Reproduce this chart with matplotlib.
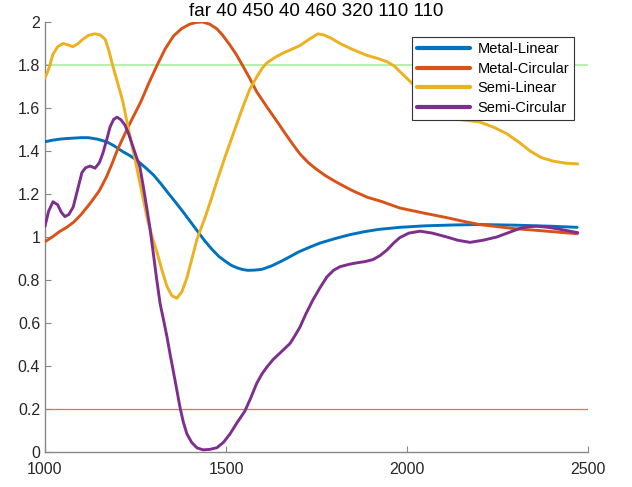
import matplotlib
matplotlib.use("Agg")
from matplotlib import pyplot as pp

# 读图得到的数据
ml_x = [1000, 1020, 1040, 1060, 1080, 1100, 1120, 1145, 1170, 1190, 1215, 1235, 1255, 1278, 1300, 1320,
        1340, 1360, 1380, 1400, 1420, 1440, 1460, 1480, 1500, 1515, 1530, 1545, 1560, 1580, 1600, 1625,
        1650, 1675, 1700, 1730, 1760, 1800, 1840, 1880, 1920, 1980, 2050, 2130, 2200, 2300, 2400, 2470]
ml_y = [1.443, 1.45, 1.455, 1.458, 1.46, 1.462, 1.462, 1.455, 1.443, 1.425, 1.397, 1.378, 1.355, 1.322,
        1.288, 1.248, 1.205, 1.163, 1.12, 1.075, 1.03, 0.985, 0.945, 0.91, 0.885, 0.868, 0.857, 0.849,
        0.845, 0.846, 0.85, 0.865, 0.885, 0.907, 0.93, 0.952, 0.972, 0.992, 1.01, 1.024, 1.035, 1.045,
        1.052, 1.056, 1.058, 1.055, 1.05, 1.045]

mc_x = [1000, 1020, 1040, 1060, 1080, 1100, 1125, 1150, 1170, 1185, 1200, 1218, 1235, 1250, 1265, 1288,
        1310, 1332, 1355, 1378, 1400, 1418, 1435, 1455, 1475, 1490, 1510, 1528, 1545, 1565, 1585, 1615,
        1640, 1660, 1685, 1705, 1728, 1750, 1775, 1800, 1825, 1850, 1890, 1930, 1980, 2050, 2110, 2150,
        2200, 2250, 2290, 2380, 2470]
mc_y = [0.978, 1.0, 1.025, 1.045, 1.07, 1.105, 1.157, 1.215, 1.28, 1.34, 1.405, 1.47, 1.53, 1.58, 1.63,
        1.72, 1.80, 1.875, 1.935, 1.97, 1.99, 1.998, 2.0, 1.99, 1.968, 1.94, 1.895, 1.85, 1.80, 1.74,
        1.675, 1.60, 1.54, 1.49, 1.43, 1.385, 1.345, 1.315, 1.285, 1.26, 1.237, 1.215, 1.185, 1.165,
        1.135, 1.11, 1.09, 1.075, 1.058, 1.048, 1.04, 1.028, 1.015]

sl_x = [1000, 1010, 1022, 1035, 1050, 1065, 1077, 1090, 1105, 1120, 1138, 1152, 1166, 1176, 1185, 1200,
        1215, 1232, 1250, 1266, 1282, 1296, 1310, 1324, 1337, 1350, 1364, 1378, 1392, 1406, 1420, 1442,
        1458, 1475, 1498, 1520, 1547, 1565, 1585, 1600, 1613, 1635, 1657, 1680, 1704, 1730, 1754, 1770,
        1790, 1815, 1850, 1889, 1920, 1945, 1965, 1980, 2017, 2055, 2091, 2120, 2150, 2201, 2240, 2276,
        2310, 2340, 2370, 2403, 2440, 2472]
sl_y = [1.74, 1.78, 1.85, 1.885, 1.90, 1.893, 1.885, 1.898, 1.92, 1.938, 1.945, 1.94, 1.92, 1.87, 1.81,
        1.72, 1.63, 1.49, 1.35, 1.22, 1.09, 1.0, 0.925, 0.84, 0.77, 0.728, 0.715, 0.745, 0.81, 0.9, 0.99,
        1.09, 1.17, 1.26, 1.375, 1.48, 1.607, 1.685, 1.745, 1.785, 1.81, 1.835, 1.855, 1.872, 1.89, 1.92,
        1.945, 1.94, 1.925, 1.90, 1.872, 1.845, 1.83, 1.815, 1.795, 1.77, 1.71, 1.62, 1.56, 1.55, 1.545,
        1.535, 1.51, 1.48, 1.44, 1.40, 1.37, 1.353, 1.343, 1.34]

sc_x = [1000, 1010, 1022, 1035, 1045, 1055, 1066, 1078, 1090, 1102, 1112, 1125, 1138, 1150, 1160, 1170,
        1180, 1190, 1199, 1210, 1221, 1232, 1243, 1252, 1262, 1272, 1282, 1290, 1298, 1308, 1318, 1328,
        1337, 1345, 1354, 1364, 1373, 1382, 1392, 1405, 1420, 1437, 1455, 1475, 1493, 1511, 1530, 1552,
        1568, 1585, 1600, 1613, 1630, 1649, 1677, 1690, 1704, 1720, 1740, 1760, 1779, 1797, 1815, 1840,
        1862, 1885, 1906, 1925, 1945, 1962, 1980, 2005, 2036, 2070, 2110, 2140, 2174, 2210, 2248, 2280,
        2312, 2335, 2359, 2390, 2422, 2472]
sc_y = [1.05, 1.12, 1.164, 1.15, 1.115, 1.095, 1.105, 1.14, 1.22, 1.30, 1.322, 1.33, 1.32, 1.345, 1.39,
        1.45, 1.513, 1.548, 1.557, 1.545, 1.52, 1.475, 1.42, 1.375, 1.327, 1.23, 1.126, 1.04, 0.94, 0.81,
        0.69, 0.61, 0.535, 0.46, 0.38, 0.29, 0.207, 0.14, 0.084, 0.045, 0.019, 0.01, 0.012, 0.02, 0.045,
        0.084, 0.135, 0.19, 0.25, 0.32, 0.365, 0.395, 0.43, 0.46, 0.505, 0.54, 0.58, 0.64, 0.707, 0.765,
        0.815, 0.845, 0.862, 0.873, 0.88, 0.886, 0.895, 0.913, 0.94, 0.97, 0.997, 1.018, 1.027, 1.018,
        1.0, 0.985, 0.975, 0.985, 1.0, 1.02, 1.04, 1.048, 1.05, 1.045, 1.036, 1.02]

names = ["Metal-Linear", "Metal-Circular", "Semi-Linear", "Semi-Circular"]
colors = ["#0072BD", "#D95319", "#EDB120", "#7E2F8E"]
x_ticks = [1000, 1500, 2000, 2500]
y_ticks = [0, 0.2, 0.4, 0.6, 0.8, 1, 1.2, 1.4, 1.6, 1.8, 2]
y_labels = ["0", "0.2", "0.4", "0.6", "0.8", "1", "1.2", "1.4", "1.6", "1.8", "2"]

pp.rcParams["font.family"] = ["Liberation Sans", "DejaVu Sans"]

fig = pp.figure(figsize=(6.32, 4.87), dpi=100)
ax = fig.add_axes([45 / 632, 1 - 452 / 487, 543 / 632, 430 / 487])

ax.axhline(1.8, color="#a8f0a0", lw=1.2, zorder=1)
ax.axhline(0.2, color="#ee6a6a", lw=0.9, zorder=1)

for xs, ys, nm, c in zip([ml_x, mc_x, sl_x, sc_x], [ml_y, mc_y, sl_y, sc_y], names, colors):
    ax.plot(xs, ys, color=c, lw=2.1, label=nm, zorder=3, solid_capstyle="round", solid_joinstyle="round")

ax.set_xlim(1000, 2500)
ax.set_ylim(0, 2)
ax.set_xticks(x_ticks)
ax.set_yticks(y_ticks)
ax.set_yticklabels(y_labels)
ax.tick_params(direction="in", length=4, width=0.8, colors="#888888", labelcolor="#262626", labelsize=11.5)
ax.tick_params(axis="x", pad=7)
for s in ["top", "right"]:
    ax.spines[s].set_visible(False)
for s in ["left", "bottom"]:
    ax.spines[s].set_color("#888888")
    ax.spines[s].set_linewidth(1.0)

ax.set_title("far 40 450 40 460 320 110 110", fontsize=13.5, color="#000000", pad=4)

leg = ax.legend(loc="upper right", bbox_to_anchor=(574 / 632, 1 - 37 / 487), bbox_transform=fig.transFigure,
                borderaxespad=0, fontsize=10.5, handlelength=3.6, handletextpad=0.5, labelspacing=0.38,
                borderpad=0.35, fancybox=False, framealpha=1, edgecolor="#333333")
leg.get_frame().set_linewidth(0.8)
for ln in leg.get_lines():
    ln.set_linewidth(3)

pp.savefig("out.png", dpi=100)
